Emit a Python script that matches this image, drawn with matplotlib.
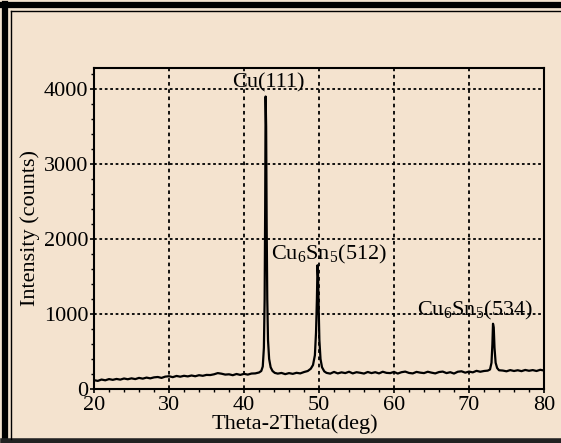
"""
XRD pattern of the Cu substrate with Cu6Sn5 intermetallic peaks.
"""

import numpy as np
import matplotlib.pyplot as plt
from matplotlib.lines import Line2D
from matplotlib.ticker import MultipleLocator

BG = "#f4e3cf"

# scan segments: (start angle, step, counts)
base_20_42 = (20.0, 0.5, [118, 108, 126, 116, 132, 122, 134, 125, 140, 130,
                          142, 132, 148, 138, 152, 142, 155, 160, 148, 165,
                          170, 158, 174, 164, 176, 168, 180, 170, 184, 176,
                          188, 186, 196, 212, 204, 192, 196, 184, 200, 188,
                          202, 192, 206, 208, 220])
base_44_48 = (44.5, 0.5, [205, 214, 198, 212, 202, 216, 208, 226, 240])
base_51_72 = (51.5, 0.5, [205, 228, 208, 222, 212, 230, 208, 224, 216, 206,
                          227, 212, 224, 208, 230, 215, 212, 228, 206, 224,
                          232, 214, 208, 228, 218, 212, 230, 218, 208, 226,
                          232, 212, 224, 206, 230, 236, 218, 232, 222, 242,
                          230, 240, 245])
base_74_80 = (74.5, 0.5, [246, 236, 252, 240, 250, 238, 254, 243, 252, 240,
                          256, 246])

# peak regions
cu111_deg = [42.3, 42.5, 42.65, 42.75, 42.82, 42.88, 42.95, 43.02, 43.1,
             43.2, 43.35, 43.55, 43.8, 44.1]
cu111_cnt = [240, 300, 550, 1200, 2400, 3900, 3500, 2200, 1200,
             650, 400, 290, 240, 215]
p512_deg = [48.9, 49.2, 49.45, 49.6, 49.72, 49.8, 49.88, 49.95, 50.05,
            50.2, 50.4, 50.7, 51.0]
p512_cnt = [270, 320, 450, 750, 1200, 1650, 1500, 1100, 650,
            400, 290, 235, 215]
p534_deg = [72.8, 73.0, 73.12, 73.2, 73.3, 73.4, 73.55, 73.75, 74.0]
p534_cnt = [260, 350, 600, 870, 820, 550, 350, 280, 250]

labels = ["Cu(111)", r"Cu$_\mathrm{6}$Sn$_\mathrm{5}$(512)",
          r"Cu$_\mathrm{6}$Sn$_\mathrm{5}$(534)"]
label_pos = [(43.2, 4080), (43.6, 1790), (63.1, 1050)]


def scan(seg):
    start, step, counts = seg
    return [start + step * i for i in range(len(counts))], counts


def main():
    plt.rcParams["font.family"] = ["Liberation Serif", "DejaVu Serif"]
    plt.rcParams["mathtext.fontset"] = "custom"
    plt.rcParams["mathtext.rm"] = "Liberation Serif"

    deg, cnt = [], []
    for part in [scan(base_20_42), (cu111_deg, cu111_cnt), scan(base_44_48),
                 (p512_deg, p512_cnt), scan(base_51_72), (p534_deg, p534_cnt),
                 scan(base_74_80)]:
        deg += list(part[0])
        cnt += list(part[1])

    fig = plt.figure(figsize=(5.61, 4.43), dpi=100, facecolor=BG)
    ax = fig.add_axes([0.1676, 0.1219, 0.8021, 0.7246], facecolor=BG)

    ax.plot(deg, cnt, color="black", lw=1.6)
    ax.set_xlim(20, 80)
    ax.set_ylim(0, 4280)
    ax.xaxis.set_major_locator(MultipleLocator(10))
    ax.xaxis.set_minor_locator(MultipleLocator(2))
    ax.yaxis.set_major_locator(MultipleLocator(1000))
    ax.yaxis.set_minor_locator(MultipleLocator(200))
    ax.tick_params(which="both", direction="out", color="black", labelsize=16)
    ax.tick_params(which="major", length=3, width=1.2)
    ax.tick_params(which="minor", length=2, width=1)
    ax.tick_params(axis="y", pad=1)
    ax.tick_params(axis="x", pad=2)

    ax.grid(axis="x", color="black", lw=1.3, ls=(0, (2, 2)))
    ax.grid(axis="y", color="black", lw=1.3, ls=(0, (1.5, 1.5)))
    for s in ax.spines.values():
        s.set_linewidth(1.5)

    ax.set_xlabel("Theta-2Theta(deg)", fontsize=16)
    ax.xaxis.set_label_coords(0.447, -0.078)
    ax.set_ylabel("Intensity (counts)", fontsize=16, labelpad=3)

    for txt, (x, y) in zip(labels, label_pos):
        ha = "center" if txt == "Cu(111)" else "left"
        ax.text(x, y, txt, fontsize=16, ha=ha, va="center")

    # picture frame
    fig.add_artist(Line2D([0.009, 0.009], [0.0, 0.992], lw=4.5, color="black",
                          transform=fig.transFigure))
    fig.add_artist(Line2D([0.005, 1.0], [0.988, 0.988], lw=4.5, color="black",
                          transform=fig.transFigure))
    fig.add_artist(Line2D([0.005, 1.0], [0.004, 0.004], lw=4, color="#222222",
                          transform=fig.transFigure))
    fig.add_artist(Line2D([0.0196, 0.0196], [0.01, 0.975], lw=1, color="black",
                          transform=fig.transFigure))
    fig.add_artist(Line2D([0.0196, 1.0], [0.975, 0.975], lw=1, color="black",
                          transform=fig.transFigure))

    fig.savefig("out.png", dpi=100, facecolor=BG)


if __name__ == "__main__":
    main()
